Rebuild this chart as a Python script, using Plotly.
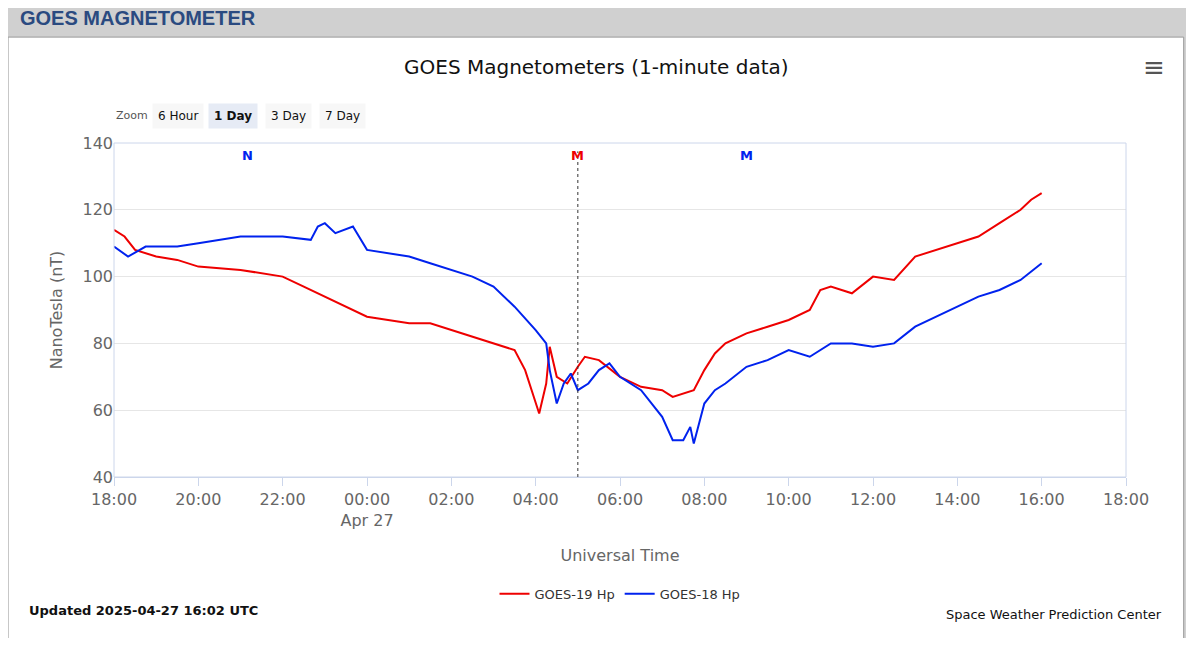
import plotly.graph_objects as go
import pandas as pd

red_t = ["18:00","18:15","18:30","19:00","19:30","20:00","21:00","22:00","22:30","23:00","23:30","00:00","00:30","01:00","01:30","02:00","02:30","03:00","03:30","03:45","04:00","04:05","04:15","04:20","04:30","04:45","05:00","05:10","05:30","06:00","06:30","07:00","07:15","07:30","07:45","08:00","08:15","08:30","09:00","09:30","10:00","10:30","10:45","11:00","11:30","12:00","12:30","13:00","13:30","14:00","14:30","15:00","15:30","15:45","16:00"]
red_v = [114,112,108,106,105,103,102,100,97,94,91,88,87,86,86,84,82,80,78,72,62,59,68,79,70,68,73,76,75,70,67,66,64,65,66,72,77,80,83,85,87,90,96,97,95,100,99,106,108,110,112,116,120,123,125]
blue_t = ["18:00","18:20","18:45","19:30","20:00","21:00","22:00","22:40","22:50","23:00","23:15","23:40","00:00","00:30","01:00","01:30","02:00","02:30","03:00","03:30","04:00","04:15","04:20","04:30","04:40","04:50","05:00","05:15","05:30","05:45","06:00","06:30","07:00","07:15","07:30","07:40","07:45","08:00","08:15","08:30","09:00","09:30","10:00","10:30","11:00","11:30","12:00","12:30","13:00","13:30","14:00","14:30","15:00","15:30","16:00"]
blue_v = [109,106,109,109,110,112,112,111,115,116,113,115,108,107,106,104,102,100,97,91,84,80,72,62,68,71,66,68,72,74,70,66,58,51,51,55,50,62,66,68,73,75,78,76,80,80,79,80,85,88,91,94,96,99,104]

def to_dt(ts):
    out = []
    for t in ts:
        day = "2025-04-26" if int(t[:2]) >= 18 else "2025-04-27"
        out.append(pd.Timestamp(f"{day} {t}"))
    return out

tick_vals = pd.date_range("2025-04-26 18:00", "2025-04-27 18:00", freq="2h")
tick_text = [("00:00<br>Apr 27" if (v.hour == 0) else v.strftime("%H:%M")) for v in tick_vals]

fig = go.Figure()
fig.add_trace(go.Scatter(x=to_dt(red_t), y=red_v, mode="lines", name="GOES-19 Hp",
                         line=dict(color="#ee0000", width=2)))
fig.add_trace(go.Scatter(x=to_dt(blue_t), y=blue_v, mode="lines", name="GOES-18 Hp",
                         line=dict(color="#0022ee", width=2)))

font = "DejaVu Sans"
fig.update_layout(
    width=1178, height=630, paper_bgcolor="#d0d0d0", plot_bgcolor="white",
    margin=dict(l=106, r=60, t=135, b=161),
    font=dict(family=font, color="#333"),
    showlegend=True,
    legend=dict(orientation="h", x=0.5, xanchor="center", y=-0.35, yanchor="middle",
                font=dict(size=13, color="#333"), bgcolor="rgba(0,0,0,0)"),
    xaxis=dict(range=[pd.Timestamp("2025-04-26 18:00"), pd.Timestamp("2025-04-27 18:00")],
               tickvals=tick_vals, ticktext=tick_text, tickfont=dict(size=16, color="#666"),
               showgrid=False, showline=True, linecolor="#ccd6eb", ticks="outside",
               tickcolor="#ccd6eb", ticklen=8,
               title=dict(text="Universal Time", font=dict(size=16, color="#666"), standoff=20)),
    yaxis=dict(range=[40, 140], dtick=20, tickfont=dict(size=16, color="#666"),
               gridcolor="#e6e6e6", showline=False, zeroline=False,
               title=dict(text="NanoTesla (nT)", font=dict(size=16, color="#666"))),
)
shapes = [
    dict(type="rect", xref="paper", yref="paper", x0=-0.1047, x1=1.057, y0=-0.488, y1=1.317,
         fillcolor="white", line=dict(color="#999", width=1), layer="below"),
    dict(type="rect", xref="paper", yref="paper", x0=0, x1=1, y0=0, y1=1,
         line=dict(color="#ccd6eb", width=1)),
    dict(type="line", xref="x", yref="paper", x0=pd.Timestamp("2025-04-27 05:00"),
         x1=pd.Timestamp("2025-04-27 05:00"), y0=0, y1=0.975, line=dict(color="#333", width=1, dash="dot")),
]
fig.update_layout(shapes=shapes)
ann = [
    dict(text="<b>GOES MAGNETOMETER</b>", x=-0.095, y=1.374, font=dict(size=20, color="#2a4a80", family="Liberation Sans")),
    dict(text="GOES Magnetometers (1-minute data)", x=0.477, y=1.228, xanchor="center", font=dict(size=20, color="#111")),
    dict(text="≡", x=1.028, y=1.228, xanchor="center", font=dict(size=26, color="#555")),
    dict(text="Zoom", x=0.0, y=1.081, font=dict(size=11, color="#555")),
    dict(text="<b>N</b>", x=pd.Timestamp("2025-04-26 21:10"), xref="x", y=0.964, font=dict(size=13, color="#0022ee"), xanchor="center"),
    dict(text="<b>M</b>", x=pd.Timestamp("2025-04-27 05:00"), xref="x", y=0.964, font=dict(size=13, color="#ee0000"), xanchor="center"),
    dict(text="<b>M</b>", x=pd.Timestamp("2025-04-27 09:00"), xref="x", y=0.964, font=dict(size=13, color="#0022ee"), xanchor="center"),
    dict(text="<b>Updated 2025-04-27 16:02 UTC</b>", x=-0.086, y=-0.40, font=dict(size=13, color="#111")),
    dict(text="Space Weather Prediction Center", x=1.038, xanchor="right", y=-0.413, font=dict(size=13, color="#111")),
]
btns = [("6 Hour", 0.063, False), ("1 Day", 0.118, True), ("3 Day", 0.172, False), ("7 Day", 0.226, False)]
for txt, x, sel in btns:
    ann.append(dict(text=("<b>%s</b>" % txt) if sel else txt, x=x, y=1.081, xanchor="center",
                    font=dict(size=12, color="#111"), bgcolor="#e6ebf5" if sel else "#f7f7f7",
                    borderpad=5))
for a in ann:
    a.setdefault("xref", "paper"); a["yref"] = "paper"; a["showarrow"] = False
    a.setdefault("xanchor", "left"); a["yanchor"] = "middle"
fig.update_layout(annotations=ann)
fig.write_html("out.html")
